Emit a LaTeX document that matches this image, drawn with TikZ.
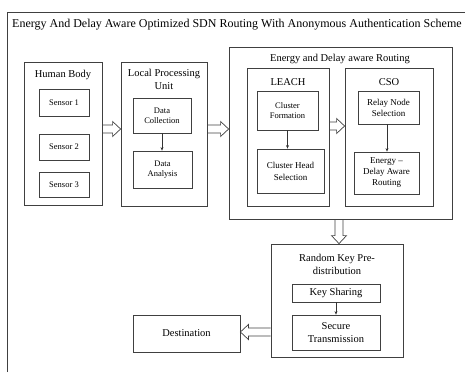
\documentclass[tikz,border=0pt]{standalone}
\usepackage{fontspec}
\setmainfont{Liberation Serif}
\usetikzlibrary{arrows.meta,calc}
% hollow block arrow from #1 to #2
\newcommand{\blockarrow}[2]{%
	\draw[draw=black!75,line width=0.7pt,line join=miter] let \p1=($(#2)-(#1)$), \n1={atan2(\y1,\x1)}, \n2={veclen(\x1,\y1)} in
	[shift={(#1)},rotate=\n1] (0,-4) -- (\n2-8,-4) -- (\n2-8,-7.5) -- (\n2,0) -- (\n2-8,7.5) -- (\n2-8,4) -- (0,4);
}
\begin{document}
\begin{tikzpicture}[x=1pt,y=-1pt]
	\tikzstyle{box} = [rectangle,draw=black!75,line width=0.8pt,inner sep=1pt,align=center]
	\tikzstyle{inbox} = [box,font=\fontsize{8.5}{10}\selectfont]
	\tikzstyle{big} = [font=\fontsize{10.5}{13}\selectfont,align=center,inner sep=0pt]
	\tikzstyle{thin} = [draw=black!80,line width=0.6pt,-{Stealth[length=3.5pt,width=3pt]}]
	\useasboundingbox (0,0) rectangle (465,372);
	% outer frame and title
	\draw[black!75,line width=0.8pt] (7,372) -- (7,12) -- (465,12);
	\node[anchor=west,font=\fontsize{12}{14}\selectfont,inner sep=0pt](title)at(12,25){Energy And Delay Aware Optimized SDN Routing With Anonymous Authentication Scheme};
	% human body
	\node[box,minimum width=78pt,minimum height=143pt](hb)at(63,133.5){};
	\node[big](hbt)at(63,75){Human Body};
	\node[inbox,minimum width=50pt,minimum height=27pt](s1)at(64,102.5){Sensor 1};
	\node[inbox,minimum width=50pt,minimum height=26pt](s2)at(64,147){Sensor 2};
	\node[inbox,minimum width=50pt,minimum height=25pt](s3)at(64,185){Sensor 3};
	% local processing unit
	\node[box,minimum width=86pt,minimum height=144pt](lpu)at(164,134){};
	\node[big](lput)at(164,79.5){Local Processing\\Unit};
	\node[inbox,minimum width=58pt,minimum height=35pt](dc)at(162,115.5){Data\\Collection};
	\node[inbox,minimum width=59pt,minimum height=37pt](da)at(162.5,169.5){Data\\Analysis};
	% energy and delay aware routing
	\node[box,minimum width=223pt,minimum height=172pt](ed)at(340.5,133){};
	\node[big](edt)at(340,58.5){Energy and Delay aware Routing};
	\node[box,minimum width=82pt,minimum height=138pt](leach)at(288,137){};
	\node[big](leacht)at(288,82){LEACH};
	\node[inbox,minimum width=61pt,minimum height=39pt](cf)at(287.5,110.5){Cluster\\Formation};
	\node[inbox,font=\fontsize{9}{12}\selectfont,minimum width=67pt,minimum height=44pt](chs)at(290.5,171){Cluster Head\\Selection};
	\node[box,minimum width=88pt,minimum height=138pt](cso)at(389,137){};
	\node[big](csot)at(389,82){CSO};
	\node[inbox,font=\fontsize{9}{11}\selectfont,minimum width=61pt,minimum height=33pt](rns)at(388.5,107.5){Relay Node\\Selection};
	\node[inbox,font=\fontsize{9}{11}\selectfont,minimum width=65pt,minimum height=42pt](edar)at(386.5,173){Energy --\\Delay Aware\\Routing};
	% random key predistribution
	\node[box,minimum width=132pt,minimum height=113pt](rk)at(337,300.5){};
	\node[big](rkt)at(337,264){Random Key Pre-\\distribution};
	\node[box,big,minimum width=88pt,minimum height=18pt](ks)at(336,293){Key Sharing};
	\node[box,big,minimum width=88pt,minimum height=35pt](st)at(336,332.5){Secure\\Transmission};
	\node[box,big,minimum width=107pt,minimum height=37pt](dest)at(186.5,333.5){Destination};
	% arrows
	\blockarrow{hb.east |- 0,129}{lpu.west |- 0,129}
	\blockarrow{lpu.east |- 0,129}{ed.west |- 0,129}
	\blockarrow{leach.east |- 0,126}{cso.west |- 0,126}
	\blockarrow{ed.south -| 339,0}{rk.north -| 339,0}
	\blockarrow{rk.west |- 0,332}{dest.east |- 0,332}
	\draw[thin] (dc.south) -- (dc.south |- da.north);
	\draw[thin] (cf.south) -- (cf.south |- chs.north);
	\draw[thin] (rns.south -| 387,0) -- (edar.north -| 387,0);
	\draw[thin] (ks.south) -- (st.north);
\end{tikzpicture}
\end{document}
